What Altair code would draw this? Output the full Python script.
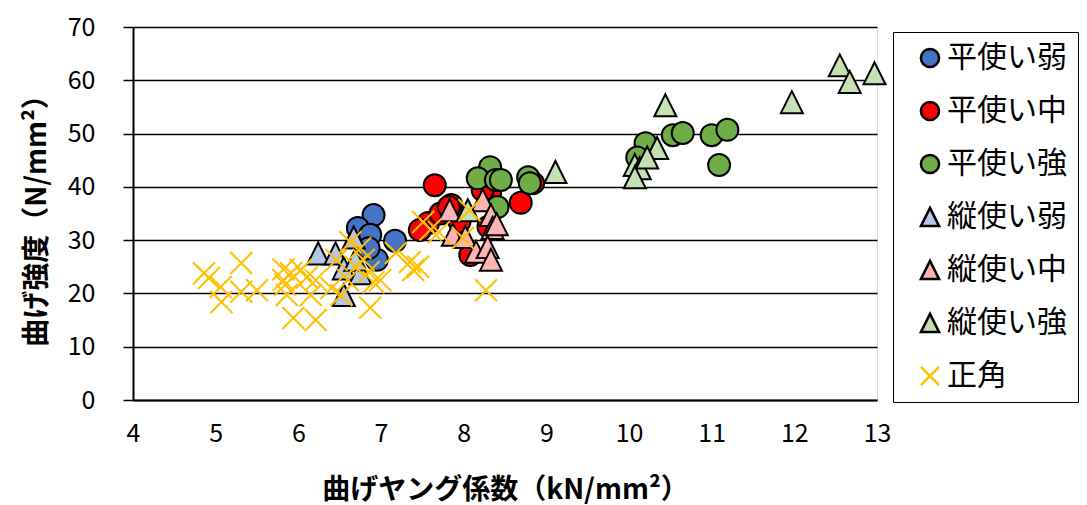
import altair as alt
import pandas as pd

series_names = ["平使い弱", "平使い中", "平使い強", "縦使い弱", "縦使い中", "縦使い強", "正角"]

hira_jaku_x = [6.91, 6.72, 6.87, 7.17, 6.95, 6.85]
hira_jaku_y = [34.7, 32.3, 31.0, 29.9, 26.3, 28.5]

hira_chu_x = [7.65, 7.85, 7.57, 7.47, 7.72, 8.08, 8.69, 8.84, 8.32, 8.23, 7.95, 8.30, 7.82]
hira_chu_y = [40.3, 36.6, 33.2, 31.9, 35.0, 27.2, 37.0, 40.7, 38.8, 39.4, 33.5, 32.5, 36.2]

hira_kyo_x = [8.32, 8.17, 8.39, 8.45, 8.78, 8.80, 8.41, 10.20, 10.53, 10.65, 11.00, 11.19, 11.09, 10.10]
hira_kyo_y = [43.7, 41.6, 41.3, 41.3, 41.8, 40.7, 36.2, 48.2, 49.7, 50.1, 49.7, 50.7, 44.1, 45.5]

tate_jaku_x = [6.24, 6.45, 6.67, 6.55, 6.75, 6.55, 6.69]
tate_jaku_y = [27.5, 27.5, 30.5, 24.7, 23.8, 19.7, 26.3]

tate_chu_x = [7.83, 8.23, 8.33, 7.87, 8.02, 8.35, 8.15, 8.29, 8.33, 8.40]
tate_chu_y = [35.6, 37.5, 34.7, 31.0, 30.6, 32.3, 27.8, 28.7, 26.3, 33.0]

tate_kyo_x = [8.05, 9.11, 10.44, 10.34, 10.07, 10.13, 10.07, 11.97, 12.55, 12.67, 12.97, 10.22]
tate_kyo_y = [35.6, 42.8, 55.3, 47.3, 44.1, 43.5, 41.8, 55.9, 62.8, 59.7, 61.3, 45.5]

seikaku_x = [4.86, 4.92, 5.06, 5.07, 5.31, 5.31, 5.50, 5.82, 5.82, 5.84, 5.91, 5.86, 5.94, 6.21,
             6.15, 6.03, 6.21, 6.10, 6.63, 7.18, 7.35, 7.39, 6.87, 6.69, 6.52, 6.79, 6.91, 6.99,
             6.46, 7.51, 8.07, 7.99, 8.27, 7.70, 6.75, 6.60, 6.85, 6.40, 7.45, 7.60]
seikaku_y = [23.8, 22.9, 21.2, 18.4, 25.7, 20.3, 20.6, 24.5, 22.5, 21.6, 23.8, 19.7, 15.4, 15.0,
             19.7, 24.4, 22.5, 23.0, 29.6, 27.6, 25.9, 24.4, 17.3, 25.0, 19.7, 26.3, 22.1, 22.5,
             26.3, 33.4, 35.6, 30.4, 20.6, 31.5, 28.5, 22.5, 24.0, 21.0, 25.0, 32.0]

all_x = [hira_jaku_x, hira_chu_x, hira_kyo_x, tate_jaku_x, tate_chu_x, tate_kyo_x, seikaku_x]
all_y = [hira_jaku_y, hira_chu_y, hira_kyo_y, tate_jaku_y, tate_chu_y, tate_kyo_y, seikaku_y]

rows = []
for i, (name, xs, ys) in enumerate(zip(series_names, all_x, all_y)):
    for xv, yv in zip(xs, ys):
        rows.append({"series": name, "E": xv, "MOR": yv, "ord": i, "grp": f"g{i}"})
df = pd.DataFrame(rows)
grp_domain = [f"g{i}" for i in range(len(series_names))]

tri = "M0,-1L1,1L-1,1Z"
xshape = "M-1,-1L1,1M1,-1L-1,1"
shape_range = ["circle", "circle", "circle", tri, tri, tri, xshape]
fill_range = ["#4472C4", "#FF0000", "#70AD47", "#B4C7E7", "#FFB3B5", "#C5E0B4", "transparent"]
stroke_range = ["#000000"] * 6 + ["#FFC000"]
size_range = [484, 484, 484, 680, 680, 680, 484]
sw_range = [2, 2, 2, 3, 3, 3, 2.8]

FONT = "Noto Sans CJK JP"

legend = alt.Legend(
    title=None, orient="none", legendX=760, legendY=5,
    padding=11, strokeColor="#000000", fillColor="#ffffff",
    labelFontSize=30, labelFont=FONT, labelColor="#000000",
    rowPadding=23, symbolOffset=11, labelOffset=2,
    symbolSize=330, symbolStrokeWidth=2.5,
)

chart = alt.Chart(df).mark_point(filled=False, opacity=1).encode(
    x=alt.X("E:Q",
            scale=alt.Scale(domain=[4, 13], nice=False, zero=False),
            axis=alt.Axis(values=list(range(4, 14)), grid=False, ticks=False,
                          domainColor="#000000", domainWidth=2, labelFlush=False,
                          labelFontSize=25, labelFont=FONT, labelColor="#000000",
                          labelPadding=21,
                          title="曲げヤング係数（kN/mm²）", titleFont=FONT, titleFontSize=28,
                          titleFontWeight="bold", titleColor="#000000", titlePadding=30)),
    y=alt.Y("MOR:Q",
            scale=alt.Scale(domain=[0, 70], nice=False),
            axis=alt.Axis(values=list(range(0, 71, 10)), grid=True, gridColor="#000000",
                          gridWidth=1.5, tickSize=10, tickColor="#000000", tickWidth=1.5,
                          domainColor="#000000", domainWidth=2, labelFlush=False,
                          labelFontSize=25, labelFont=FONT, labelColor="#000000",
                          labelPadding=28,
                          title="曲げ強度（N/mm²）", titleFont=FONT, titleFontSize=28,
                          titleFontWeight="bold", titleColor="#000000", titlePadding=16)),
    shape=alt.Shape("series:N", scale=alt.Scale(domain=series_names, range=shape_range), legend=legend),
    fill=alt.Fill("series:N", scale=alt.Scale(domain=series_names, range=fill_range), legend=legend),
    stroke=alt.Stroke("series:N", scale=alt.Scale(domain=series_names, range=stroke_range), legend=legend),
    size=alt.Size("grp:N", scale=alt.Scale(domain=grp_domain, range=size_range), legend=None),
    strokeWidth=alt.StrokeWidth("grp:N", scale=alt.Scale(domain=grp_domain, range=sw_range), legend=None),
    order=alt.Order("ord:Q"),
).properties(
    width=744, height=373,
    autosize=alt.AutoSizeParams(type="none"),
    padding={"left": 125, "top": 19, "right": 202, "bottom": 113},
).configure_view(strokeWidth=0).configure(background="#ffffff")

chart.save("out.html", embed_options={"renderer": "svg", "actions": False})
